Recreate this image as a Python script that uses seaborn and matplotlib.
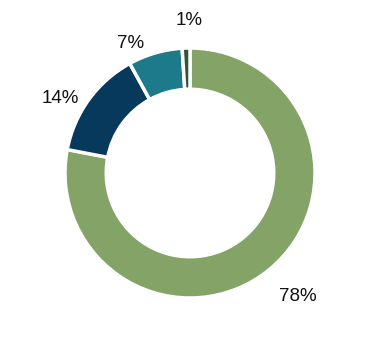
import numpy as np
import matplotlib
matplotlib.use("Agg")
import matplotlib.pyplot as plt
import seaborn as sns

categories = ["A", "B", "C", "D"]
values = [78, 14, 7, 1]
labels = ["78%", "14%", "7%", "1%"]

colors = ["#84a467", "#06395b", "#1d7a8a", "#34523e"]

sns.set_theme(style="white")
plt.rcParams['font.family'] = ['Liberation Sans', 'DejaVu Sans']

fig = plt.figure(figsize=(3.8, 3.48), dpi=100)
ax = fig.add_axes([0, 0, 1, 1])
R = 125.0
wedges, _ = ax.pie(values, colors=colors, startangle=90, counterclock=False,
                   radius=1.0, wedgeprops=dict(width=0.33, edgecolor="white", linewidth=2.5))

# label placement tweaks (distance from center, angular offset in degrees)
dists = [1.31, 1.20, 1.14, 1.22]
offs = [1.7, 6.0, 8.5, -1.4]
for w, lab, d, o in zip(wedges, labels, dists, offs):
    ang = np.deg2rad((w.theta1 + w.theta2) / 2 + o)
    ax.text(d * np.cos(ang), d * np.sin(ang), lab, ha="center", va="center",
            fontsize=13.5, color="#111111")

ax.set_xlim(-190 / R, 190 / R)
ax.set_ylim(-175 / R, 173 / R)
ax.set_aspect("equal")
ax.axis("off")
fig.savefig("out.png", dpi=100, facecolor="white")
